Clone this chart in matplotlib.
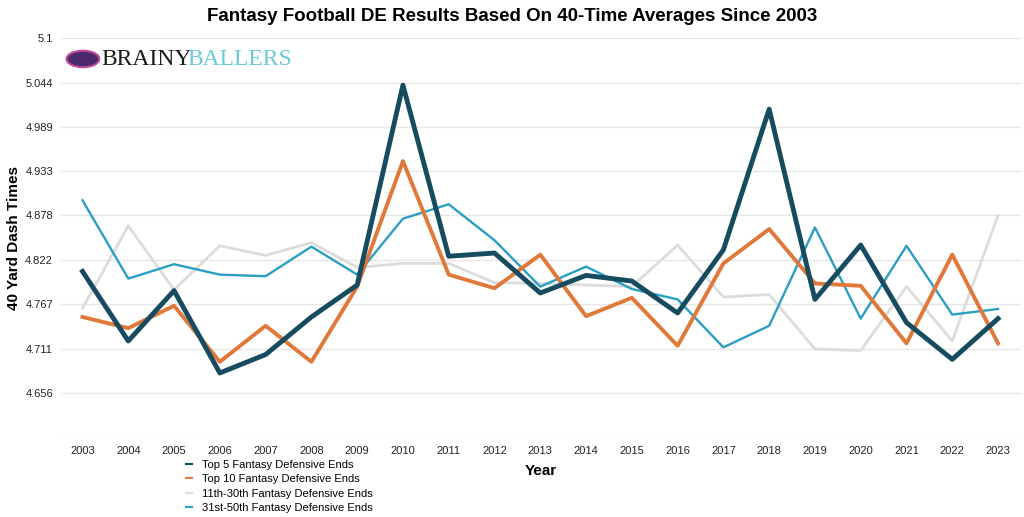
import numpy as np
import matplotlib
matplotlib.use("Agg")
import matplotlib.pyplot as plt
from matplotlib.patches import Circle

plt.rcParams['font.family'] = ['Liberation Sans', 'DejaVu Sans']

years = list(range(2003, 2024))

top5 = [4.808, 4.721, 4.784, 4.681, 4.704, 4.751, 4.791, 5.041, 4.827, 4.831,
        4.781, 4.803, 4.796, 4.756, 4.835, 5.011, 4.773, 4.841, 4.744, 4.698, 4.749]
top10 = [4.751, 4.737, 4.765, 4.695, 4.740, 4.695, 4.789, 4.946, 4.804, 4.787,
         4.829, 4.752, 4.775, 4.715, 4.818, 4.861, 4.793, 4.790, 4.718, 4.829, 4.718]
mid = [4.762, 4.865, 4.785, 4.840, 4.828, 4.844, 4.813, 4.818, 4.818, 4.794,
       4.793, 4.791, 4.789, 4.841, 4.776, 4.779, 4.711, 4.709, 4.789, 4.721, 4.878]
low = [4.897, 4.799, 4.817, 4.804, 4.802, 4.839, 4.804, 4.874, 4.892, 4.847,
       4.789, 4.814, 4.786, 4.773, 4.713, 4.740, 4.863, 4.749, 4.840, 4.754, 4.761]

series_names = ["Top 5 Fantasy Defensive Ends", "Top 10 Fantasy Defensive Ends",
                "11th-30th Fantasy Defensive Ends", "31st-50th Fantasy Defensive Ends"]

ytick_vals = [4.6, 4.656, 4.711, 4.767, 4.822, 4.878, 4.933, 4.989, 5.044, 5.1]
ytick_labels = ["", "4.656", "4.711", "4.767", "4.822", "4.878", "4.933", "4.989", "5.044", "5.1"]

fig = plt.figure(figsize=(10.24, 5.17), dpi=100)
ax = fig.add_axes([0.06, 0.1534, 0.937, 0.7731])

# draw light lines first, heavy navy on top
ax.plot(years, mid, color="#dcdcdc", lw=2.0, label=series_names[2], zorder=2)
ax.plot(years, low, color="#2a9fc4", lw=1.7, label=series_names[3], zorder=3)
ax.plot(years, top10, color="#e0783a", lw=2.8, label=series_names[1], zorder=4)
ax.plot(years, top5, color="#174b5f", lw=3.5, label=series_names[0], zorder=5)

ax.set_xlim(2002.54, 2023.5)
ax.set_ylim(4.6, 5.1)
ax.set_xticks(years)
ax.set_xticklabels([str(y) for y in years], fontsize=8, color="#222222")
ax.set_yticks(ytick_vals)
ax.set_yticklabels(ytick_labels, fontsize=8, color="#222222")
ax.tick_params(length=0, pad=6)
ax.grid(axis="y", color="#e6e6e6", lw=1)
ax.set_axisbelow(True)
for s in ax.spines.values():
    s.set_visible(False)

ax.set_xlabel("Year", fontsize=11, fontweight="bold", labelpad=6)
ax.set_ylabel("40 Yard Dash Times", fontsize=11, fontweight="bold", labelpad=3)
fig.suptitle("Fantasy Football DE Results Based On 40-Time Averages Since 2003",
             fontsize=13.5, fontweight="bold", y=0.985)

handles, labels = ax.get_legend_handles_labels()
order = [3, 2, 0, 1]
ax.legend([handles[i] for i in order], [labels[i] for i in order],
          loc="upper left", bbox_to_anchor=(0.125, -0.045), frameon=False,
          fontsize=8, handlelength=0.6, handletextpad=0.9, labelspacing=0.38,
          borderaxespad=0)
leg = ax.get_legend()
for line in leg.get_lines():
    line.set_linewidth(1.5)

# logo
fig.patches.append(Circle((0.081, 0.886), 0.016, transform=fig.transFigure,
                          facecolor="#4a2a6a", edgecolor="#c04a9a", lw=1.5))
fig.text(0.099, 0.885, "BRAINY", fontsize=17, family="Liberation Serif",
         color="#1a1a1a", va="center")
fig.text(0.183, 0.885, "BALLERS", fontsize=17, family="Liberation Serif",
         color="#6cc9d6", va="center")

fig.savefig("out.png", dpi=100)
